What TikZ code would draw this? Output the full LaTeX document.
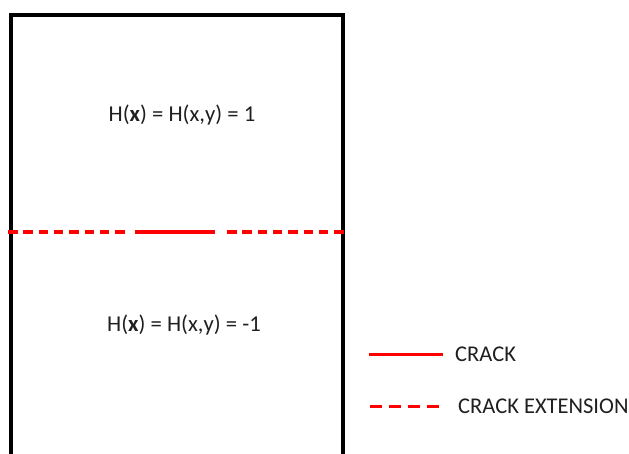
\documentclass[tikz,border=0pt]{standalone}
\usepackage{fontspec}
\setmainfont{Carlito}
\begin{document}
\begin{tikzpicture}[x=1pt,y=-1pt,
  frame/.style={draw=black,line width=4pt},
  crackline/.style={draw=red,line width=4pt},
  extline/.style={draw=red,line width=4pt,dash pattern=on 9.5pt off 5.8pt},
  legcrack/.style={draw=red,line width=3pt},
  legext/.style={draw=red,line width=3pt,dash pattern=on 12pt off 7pt},
  label/.style={font=\fontsize{22.7}{25}\selectfont,text=black!88,inner sep=0pt},
  legtext/.style={font=\fontsize{22.5}{25}\selectfont,text=black!88,inner sep=0pt,anchor=west}]
\useasboundingbox (0,0) rectangle (629,454);
% domain boundary (open at the bottom)
\draw[frame] (11,460) -- (11,15) -- (342.5,15) -- (342.5,460);
% upper and lower region labels
\node[label] (upper) at (182,115) {H(\textbf{x}) = H(x,y) = 1};
\node[label] (lower) at (184,325) {H(\textbf{x}) = H(x,y) = -1};
% crack and its extensions
\coordinate (e1a) at (8,232.5);
\coordinate (e1b) at (124.6,232.5);
\coordinate (ca) at (135,232.5);
\coordinate (cb) at (215,232.5);
\coordinate (e2a) at (227,232.5);
\coordinate (e2b) at (345,232.5);
\draw[extline] (e1a) -- (e1b);
\draw[crackline] (ca) -- (cb);
\draw[extline] (e2a) -- (e2b);
% legend
\coordinate (l1a) at (369,354);
\coordinate (l1b) at (443,354);
\coordinate (l2a) at (370,406);
\coordinate (l2b) at (445,406);
\draw[legcrack] (l1a) -- (l1b);
\draw[legext] (l2a) -- (l2b);
\node[legtext] (t1) at (455,354) {CRACK};
\node[legtext] (t2) at (458,406) {CRACK EXTENSION};
\end{tikzpicture}
\end{document}
